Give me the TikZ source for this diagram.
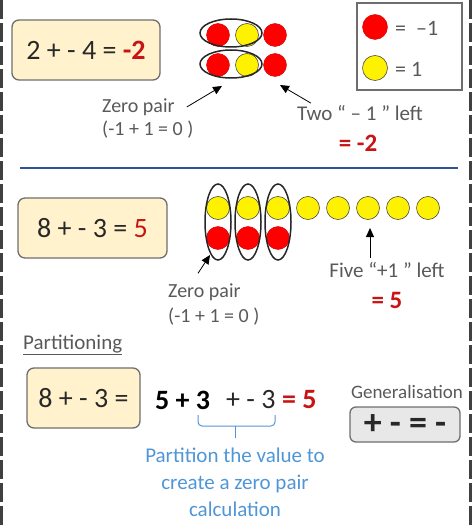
\documentclass[tikz,border=0pt]{standalone}
\usepackage{fontspec}
\setmainfont{Carlito}
\usetikzlibrary{arrows.meta,shapes.geometric}
\definecolor{cream}{RGB}{255,242,204}
\definecolor{boxgray}{RGB}{110,110,110}
\definecolor{txtdark}{RGB}{40,40,40}
\definecolor{txtgray}{RGB}{89,89,89}
\definecolor{negred}{RGB}{200,20,20}
\definecolor{navy}{RGB}{47,84,150}
\definecolor{skyblue}{RGB}{80,150,215}
\definecolor{genfill}{RGB}{232,232,232}

\tikzset{
  eqbox/.style={draw=boxgray,line width=1.3pt,fill=cream,rounded corners=7pt,
    minimum height=60pt,text=txtdark,font=\fontsize{28}{30}\selectfont},
  minusone/.style={circle,fill=red,draw=red!80!black,line width=0.4pt,minimum size=23pt,inner sep=0pt},
  plusone/.style={circle,fill=yellow,draw=black!70,line width=0.6pt,minimum size=23pt,inner sep=0pt},
  zeroring/.style={ellipse,draw=black!85,line width=1.5pt,inner sep=0pt},
  note/.style={text=txtgray,font=\fontsize{20}{23}\selectfont,inner sep=0pt},
  answer/.style={text=negred,font=\fontsize{25}{28}\selectfont\bfseries,inner sep=0pt},
  pointer/.style={-{Triangle[length=9pt,width=8pt]},line width=0.8pt,black}
}

\begin{document}
\begin{tikzpicture}[x=1pt,y=-1pt]
	\useasboundingbox (0,0) rectangle (473,529);
	% page borders
	\draw[black!75,line width=3pt,dash pattern=on 19pt off 4pt] (1.5,0) -- (1.5,529);
	\draw[black!75,line width=3pt,dash pattern=on 19pt off 4pt] (470,0) -- (470,529);

	% first example
	\node[eqbox,minimum width=148pt] (eqa) at (86,50) {2 + - 4 = {\color{negred}\bfseries -2}};
	\foreach \row/\y in {1/35,2/65} {
		\node[minusone] (a\row1) at (218,\y) {};
		\node[plusone] (a\row2) at (247,\y) {};
		\node[minusone] (a\row3) at (275,\y) {};
	}
	\node[zeroring,minimum width=62pt,minimum height=28pt] (zpa) at (231,33) {};
	\node[zeroring,minimum width=62pt,minimum height=28pt] (zpb) at (231,64) {};
	\node[note,anchor=west] (zerotxt) at (102,107) {Zero pair};
	\node[note,anchor=west] (zerosum) at (102,130) {(-1 + 1 = 0 )};
	\coordinate (tipa) at (222,86);
	\draw[pointer] (zerotxt.east) ++(12,0) -- (tipa);
	\node[note,font=\fontsize{21}{23}\selectfont] (twoleft) at (360,113) {Two “ – 1 ” left};
	\coordinate (tipb) at (280,85);
	\draw[pointer] (twoleft.north west) ++(14,-2) -- (tipb);
	\node[answer] (ansa) at (358,143) {= -2};

	% key
	\draw[boxgray,line width=1.5pt] (357,3) rectangle (462,90);
	\node[minusone,minimum size=25pt] (keyneg) at (375,27) {};
	\node[plusone,minimum size=25pt] (keypos) at (375,68) {};
	\node[note,anchor=west,font=\fontsize{22}{24}\selectfont] (keynegtxt) at (395,28) {=~~–1};
	\node[note,anchor=west,font=\fontsize{22}{24}\selectfont] (keypostxt) at (395,69) {= 1};

	\draw[navy,line width=2pt] (20,168) -- (458,168);

	% second example
	\node[eqbox,minimum width=149pt] (eqb) at (92.5,228) {8 + - 3 = {\color{negred}5}};
	\foreach \i in {0,...,7}
		\node[plusone] (b\i) at (218+30*\i,208) {};
	\foreach \i in {0,1,2} {
		\node[minusone] (r\i) at (218+30*\i,238) {};
		\node[zeroring,minimum width=26pt,minimum height=76pt] (zr\i) at (218+30*\i,222) {};
	}
	\node[note,anchor=west] (zerotxtb) at (168,292) {Zero pair};
	\node[note,anchor=west] (zerosumb) at (168,317) {(-1 + 1 = 0 )};
	\coordinate (tipc) at (210,255);
	\draw[pointer] (zerotxtb.north west) ++(30,-10) -- (tipc);
	\node[note,font=\fontsize{21}{23}\selectfont] (fiveleft) at (387,270) {Five “+1 ” left};
	\coordinate (tipd) at (370,228);
	\draw[pointer] (370,258) -- (tipd);
	\node[answer] (ansb) at (387,300) {= 5};

	% partitioning
	\node[note,anchor=west,font=\fontsize{21}{24}\selectfont] (parthead) at (23,345) {\underline{Partitioning}};
	\node[eqbox,minimum width=113pt] (eqc) at (83.5,398) {8 + - 3 =};
	\node[anchor=west,inner sep=0pt,font=\fontsize{28}{30}\selectfont\bfseries] (parta) at (155,400) {5 + 3};
	\node[anchor=west,inner sep=0pt,text=txtdark,font=\fontsize{28}{30}\selectfont] (partb) at (226,400) {+ - 3};
	\node[answer,anchor=west,font=\fontsize{28}{30}\selectfont\bfseries] (partc) at (282,400) {= 5};
	\draw[skyblue,line width=1pt,rounded corners=4pt] (198,415) |- (275,426) -- (275,415);
	\draw[skyblue,line width=1pt] (235,426) -- (235,438);
	\node[text=skyblue,align=center,font=\fontsize{21}{27}\selectfont] (partnote) at (235,482)
		{Partition the value to\\create a zero pair\\calculation};

	% generalisation
	\node[note,font=\fontsize{19}{20}\selectfont] (gentxt) at (407,392) {Generalisation};
	\node[draw=boxgray,line width=1.3pt,fill=genfill,rounded corners=6pt,minimum width=110pt,
		minimum height=35pt,font=\fontsize{36}{36}\selectfont\bfseries,text=txtdark] (genbox) at (405,424.5) {+ - = -};
\end{tikzpicture}
\end{document}
